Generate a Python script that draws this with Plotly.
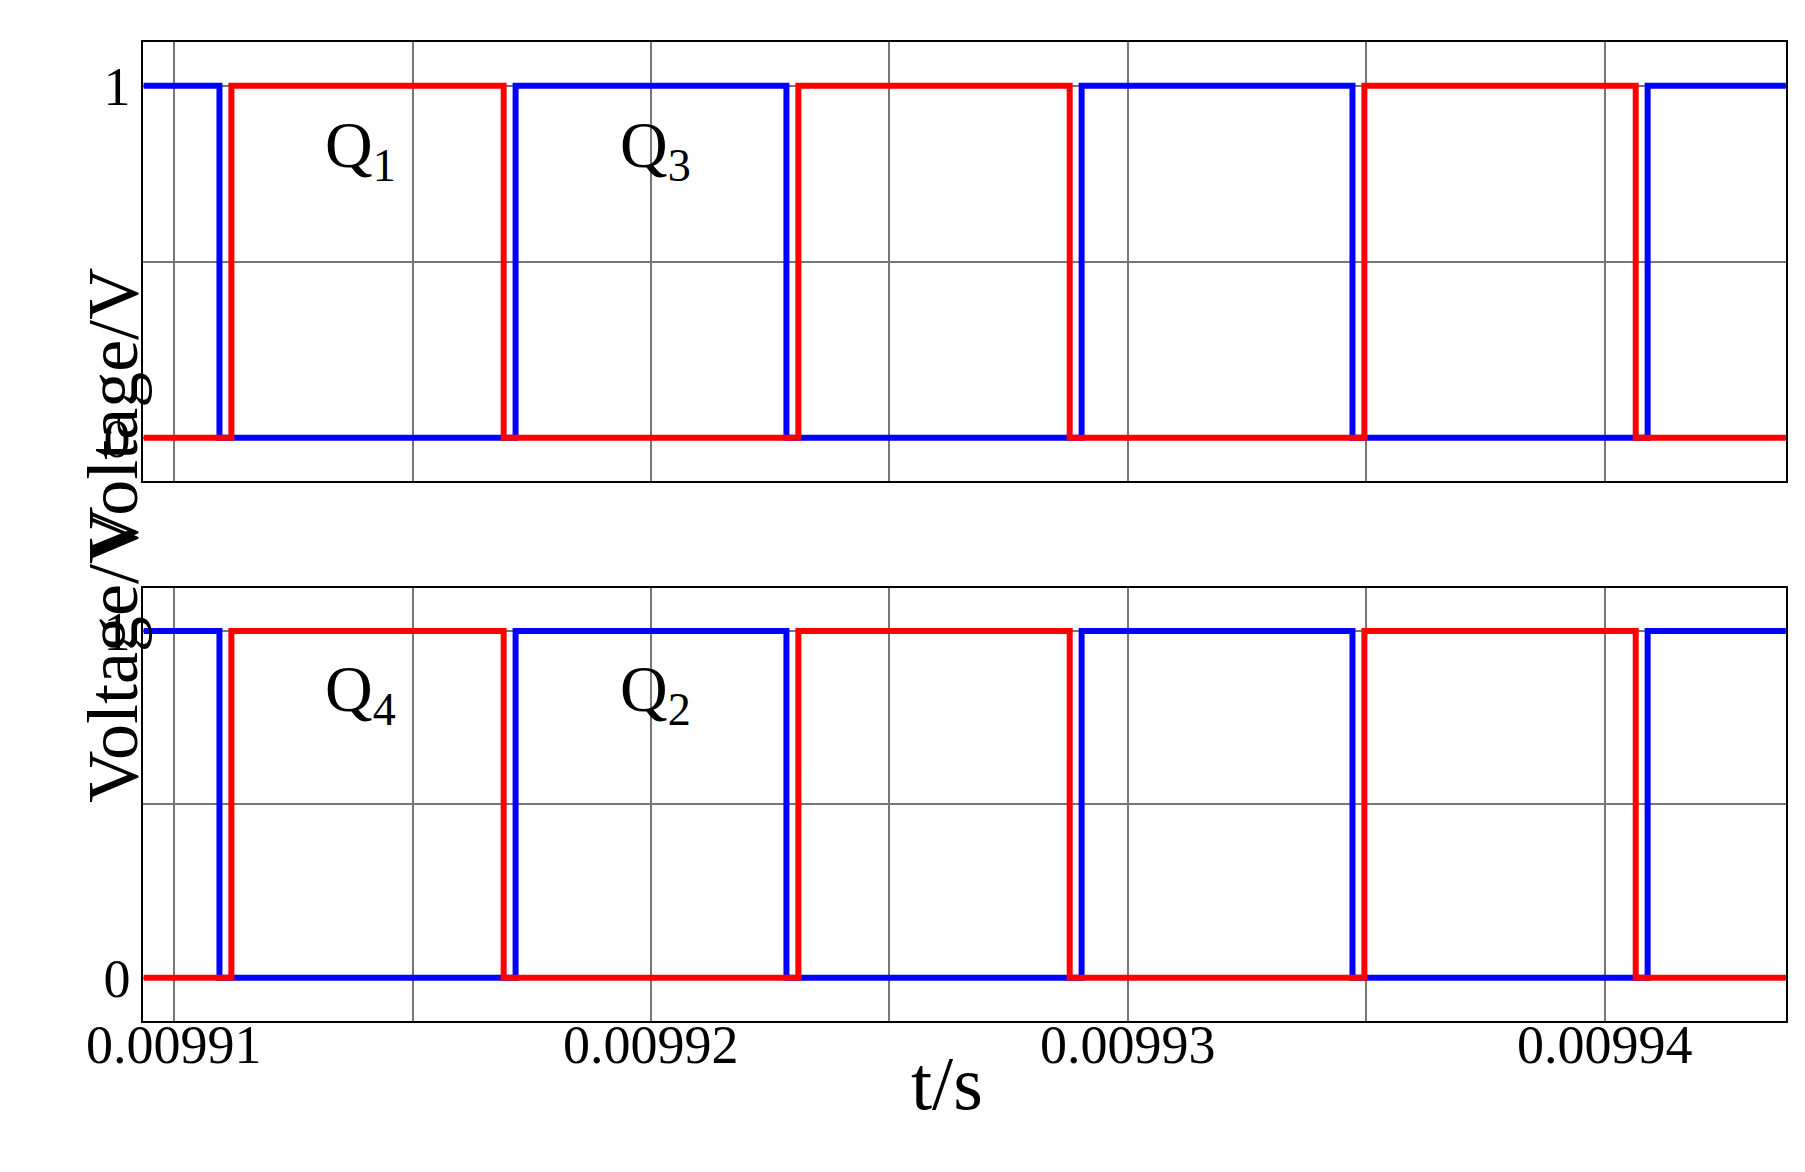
import plotly.graph_objects as go
from plotly.subplots import make_subplots

t_start = 0.0099093546
t_end = 0.0099438
blue_edges = [0.00991095, 0.00991716, 0.00992284, 0.00992903, 0.00993471, 0.00994090]  # falls, rises alternately
red_edges = [0.00991120, 0.00991691, 0.00992309, 0.00992878, 0.00993496, 0.00994065]   # rises, falls alternately
blue_start = 1
red_start = 0
tick_vals = [0.00991, 0.00992, 0.00993, 0.00994]
tick_text = ["0.00991", "0.00992", "0.00993", "0.00994"]

def steps(edges, start):
    xs, ys = [t_start], [start]
    v = start
    for e in edges:
        v = 1 - v
        xs.append(e); ys.append(v)
    xs.append(t_end); ys.append(v)
    return xs, ys

fig = make_subplots(rows=2, cols=1, shared_xaxes=True)
for r in (1, 2):
    bx, by = steps(blue_edges, blue_start)
    rx, ry = steps(red_edges, red_start)
    fig.add_trace(go.Scatter(x=bx, y=by, mode="lines", line=dict(color="#0000ff", width=6, shape="hv"), showlegend=False), row=r, col=1)
    fig.add_trace(go.Scatter(x=rx, y=ry, mode="lines", line=dict(color="#ff0000", width=6, shape="hv"), showlegend=False), row=r, col=1)

font = "Liberation Serif"
W, H = 1805, 1172
fig.update_layout(width=W, height=H, plot_bgcolor="white", paper_bgcolor="white",
                  margin=dict(l=0, r=0, t=0, b=0), font=dict(family=font, color="black"))
fig.update_layout(
    xaxis=dict(domain=[0.075, 0.985]), xaxis2=dict(domain=[0.075, 0.985]),
    yaxis=dict(domain=[0.596, 0.971]), yaxis2=dict(domain=[0.136, 0.505]))
for ax in ("xaxis", "xaxis2"):
    fig.layout[ax].update(range=[t_start, t_end], dtick=0.000005, tick0=0.00991, showgrid=True,
                          gridcolor="#777777", gridwidth=1.5, showline=True, linecolor="black",
                          linewidth=2, mirror=True, zeroline=False, ticks="", showticklabels=False)
for ax in ("yaxis", "yaxis2"):
    fig.layout[ax].update(range=[-0.124, 1.124], tickvals=[0, 0.5, 1], ticktext=["0", "", "1"],
                          showgrid=True, gridcolor="#777777", gridwidth=1.5, showline=True,
                          linecolor="black", linewidth=2, mirror=True, zeroline=False, ticks="",
                          tickfont=dict(size=54, family=font))

for tv, tt in zip(tick_vals, tick_text):
    fig.add_annotation(x=tv, y=0.088, xref="x2", yref="paper", text=tt, showarrow=False,
                       font=dict(size=54, family=font))
fig.add_annotation(x=0.52, y=0.045, xref="paper", yref="paper", text="t/s", showarrow=False,
                   font=dict(size=76, family=font))
for yc in (0.78, 0.32):
    fig.add_annotation(x=0.035, y=yc, xref="paper", yref="paper", text="Voltage/V", textangle=-90,
                       showarrow=False, font=dict(size=72, family=font))

labels = [("Q<sub>1</sub>", 0.00991390, 1, ), ("Q<sub>3</sub>", 0.00992010, 1), ("Q<sub>4</sub>", 0.00991390, 2), ("Q<sub>2</sub>", 0.00992010, 2)]
for txt, x, r in labels:
    fig.add_annotation(x=x, y=0.82, xref="x" if r == 1 else "x2", yref="y" if r == 1 else "y2",
                       text=txt, showarrow=False, font=dict(size=66, family=font))

fig.write_html("out.html")
